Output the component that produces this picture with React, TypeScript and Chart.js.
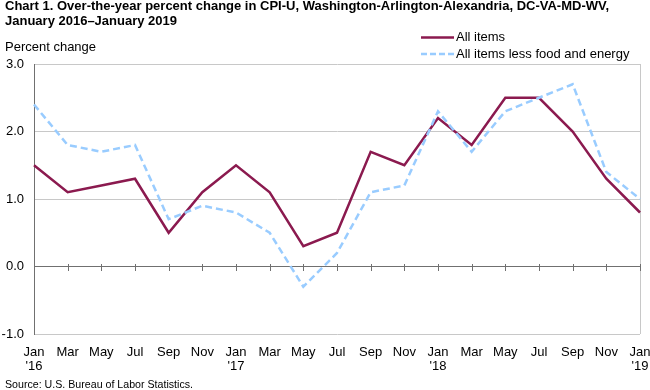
import React, { useEffect, useRef } from "react";
import { Chart, registerables } from "chart.js";

Chart.register(...registerables);

const monthLabels: string[][] = [
  ["Jan", "'16"], ["Mar"], ["May"], ["Jul"], ["Sep"], ["Nov"],
  ["Jan", "'17"], ["Mar"], ["May"], ["Jul"], ["Sep"], ["Nov"],
  ["Jan", "'18"], ["Mar"], ["May"], ["Jul"], ["Sep"], ["Nov"],
  ["Jan", "'19"],
];

const allItems: number[] = [1.5, 1.1, 1.2, 1.3, 0.5, 1.1, 1.5, 1.1, 0.3, 0.5, 1.7, 1.5, 2.2, 1.8, 2.5, 2.5, 2.0, 1.3, 0.8];
const coreItems: number[] = [2.4, 1.8, 1.7, 1.8, 0.7, 0.9, 0.8, 0.5, -0.3, 0.2, 1.1, 1.2, 2.3, 1.7, 2.3, 2.5, 2.7, 1.4, 1.0];

const titleLines: string[] = [
  "Chart 1. Over-the-year percent change in CPI-U, Washington-Arlington-Alexandria, DC-VA-MD-WV,",
  "January 2016\u2013January 2019",
];
const yAxisTitle = "Percent change";
const sourceText = "Source: U.S. Bureau of Labor Statistics.";
const seriesNames: string[] = ["All items", "All items less food and energy"];

const MAROON = "#8b1a4f";
const LIGHTBLUE = "#99ccff";
const FONT = "'Liberation Sans', Arial, sans-serif";

const decorPlugin = {
  id: "decor",
  beforeDatasetsDraw(chart: any) {
    const { ctx, chartArea, scales } = chart;
    const x = scales.x;
    const y = scales.y;
    ctx.save();
    ctx.strokeStyle = "#c8c8c8";
    ctx.lineWidth = 1;
    ctx.beginPath();
    ctx.moveTo(Math.round(chartArea.right) + 0.5, chartArea.top);
    ctx.lineTo(Math.round(chartArea.right) + 0.5, chartArea.bottom);
    ctx.stroke();
    const y0 = Math.round(y.getPixelForValue(0));
    ctx.strokeStyle = "#707070";
    ctx.beginPath();
    for (let i = 1; i < monthLabels.length; i++) {
      const px = Math.round(x.getPixelForValue(i)) + 0.5;
      ctx.moveTo(px, y0 - 3);
      ctx.lineTo(px, y0 + 4);
    }
    ctx.stroke();
    ctx.restore();
  },
  afterDraw(chart: any) {
    const { ctx } = chart;
    ctx.save();
    ctx.fillStyle = "#000";
    ctx.textBaseline = "middle";
    ctx.textAlign = "left";
    ctx.font = `bold 13px ${FONT}`;
    ctx.fillText(titleLines[0], 5, 6, 628);
    ctx.fillText(titleLines[1], 5, 21);
    ctx.font = `13px ${FONT}`;
    ctx.fillText(yAxisTitle, 5, 47);
    ctx.font = `11px ${FONT}`;
    ctx.fillText(sourceText, 5, 385, 188);
    ctx.font = `13px ${FONT}`;
    const lx0 = 421, lx1 = 454, tx = 456;
    const ly = [37.5, 54];
    ctx.lineWidth = 2.5;
    ctx.strokeStyle = MAROON;
    ctx.setLineDash([]);
    ctx.beginPath();
    ctx.moveTo(lx0, ly[0]);
    ctx.lineTo(lx1, ly[0]);
    ctx.stroke();
    ctx.strokeStyle = LIGHTBLUE;
    ctx.setLineDash([6, 3]);
    ctx.beginPath();
    ctx.moveTo(lx0, ly[1]);
    ctx.lineTo(lx1, ly[1]);
    ctx.stroke();
    ctx.setLineDash([]);
    ctx.fillText(seriesNames[0], tx, ly[0]);
    ctx.fillText(seriesNames[1], tx, ly[1], 179);
    ctx.restore();
  },
};

export default function App() {
  const ref = useRef<HTMLCanvasElement>(null);
  useEffect(() => {
    if (!ref.current) return;
    const chart = new Chart(ref.current, {
      type: "line",
      data: {
        labels: monthLabels,
        datasets: [
          {
            label: seriesNames[1],
            data: coreItems,
            borderColor: LIGHTBLUE,
            borderWidth: 2.5,
            borderDash: [7, 4],
            pointRadius: 0,
            tension: 0,
            fill: false,
          },
          {
            label: seriesNames[0],
            data: allItems,
            borderColor: MAROON,
            borderWidth: 2.5,
            pointRadius: 0,
            tension: 0,
            fill: false,
          },
        ],
      },
      options: {
        responsive: false,
        animation: false,
        layout: { padding: { top: 64, left: 0, right: 10, bottom: 0 } },
        plugins: {
          legend: { display: false },
          title: { display: false },
          tooltip: { enabled: false },
        },
        scales: {
          x: {
            offset: false,
            grid: { display: false },
            border: { display: false },
            afterFit(scale: any) {
              scale.height = 56;
              scale.paddingLeft = 0;
              scale.paddingRight = 0;
            },
            ticks: {
              color: "#000",
              padding: 3,
              maxRotation: 0,
              autoSkip: false,
              font: { family: FONT, size: 13, lineHeight: 1.1 },
            },
          },
          y: {
            min: -1,
            max: 3,
            afterFit(scale: any) {
              scale.width = 34;
            },
            border: { display: true, color: "#707070", width: 1 },
            grid: {
              drawTicks: false,
              color: (c: any) => (c.tick && c.tick.value === 0 ? "#707070" : "#c8c8c8"),
            },
            ticks: {
              stepSize: 1,
              padding: 10,
              color: "#000",
              font: { family: FONT, size: 13 },
              callback: (v: any) => Number(v).toFixed(1),
            },
          },
        },
      },
      plugins: [decorPlugin],
    });
    return () => chart.destroy();
  }, []);
  return (
    <div style={{ position: "absolute", left: 0, top: 0, width: 650, height: 390, background: "#fff" }}>
      <canvas ref={ref} width={650} height={390} />
    </div>
  );
}
